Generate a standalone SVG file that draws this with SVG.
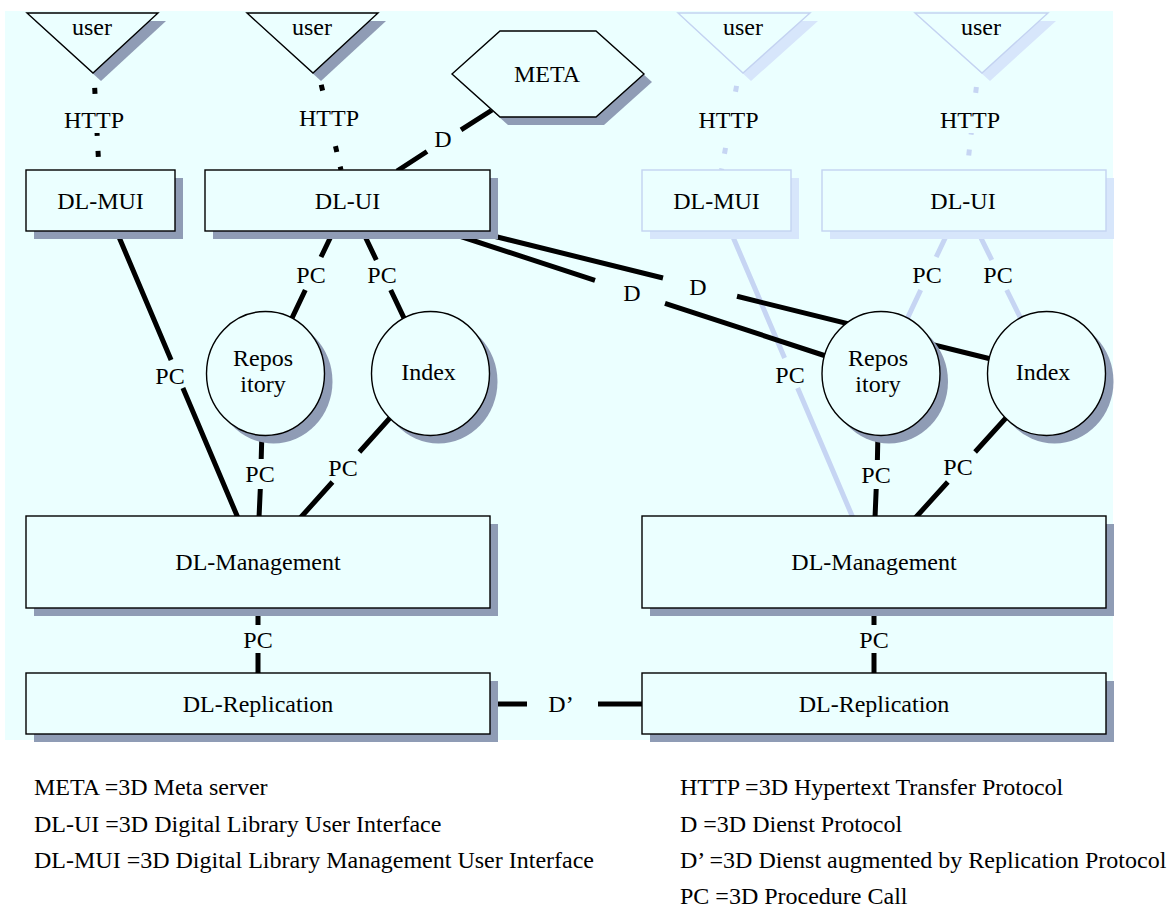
<svg xmlns="http://www.w3.org/2000/svg" width="1171" height="910" viewBox="0 0 1171 910">
<style>
  text { font-family: "Liberation Serif", "Times New Roman", serif; font-size: 24px; fill: #000; }
  .c { text-anchor: middle; }
  .shape { fill: #ebffff; stroke: #000; stroke-width: 1.4; }
  .shadow { fill: #8f9cb5; }
  .fshape { fill: #ebffff; stroke: #c4d3f1; stroke-width: 1.4; }
  .fshadow { fill: #d7e6fb; }
  .conn { fill: none; stroke: #000; stroke-width: 5; }
  .fconn { fill: none; stroke: #c6d5f3; stroke-width: 5; }
  .dot { stroke-dasharray: 6 15; }
  .lblbg { fill: #ebffff; }
</style>
<rect id="background" x="5" y="11" width="1108" height="729" fill="#ebffff"/>

<g id="connectors">
  <!-- faded connectors -->
  <path class="fconn dot" d="M738.5,75 L721.6,170" stroke-dashoffset="10"/>
  <rect class="lblbg" x="696" y="97" width="66" height="38"/>
  <text class="c" x="728.5" y="128">HTTP</text>
  <path class="fconn dot" d="M977.7,75 L967.1,170" stroke-dashoffset="9"/>
  <rect class="lblbg" x="938" y="97" width="64" height="36"/>
  <text class="c" x="970" y="128">HTTP</text>
  <path class="fconn" d="M730,230 L784.6,358 M797.6,388 L853,518"/>
  <text class="c" x="790" y="383">PC</text>
  <path class="fconn" d="M949,230 L936.2,257 M920.7,290 L906.3,320.6"/>
  <text class="c" x="927" y="283">PC</text>
  <path class="fconn" d="M977,230 L991.8,260 M1006.7,290 L1021.8,320.6"/>
  <text class="c" x="998" y="283">PC</text>

  <!-- solid connectors -->
  <path class="conn dot" d="M94,75 L99,170" stroke-dashoffset="8"/>
  <rect class="lblbg" x="60" y="98" width="68" height="35"/>
  <text class="c" x="94" y="128">HTTP</text>
  <path class="conn dot" d="M319,75 L341,170" stroke-dashoffset="11"/>
  <rect class="lblbg" x="296" y="97" width="66" height="38"/>
  <text class="c" x="329" y="126">HTTP</text>

  <path class="conn" d="M397,171 L427,151.5 M461,129.8 L496,107.5"/>
  <text class="c" x="443" y="147">D</text>

  <path class="conn" d="M116,230 L171.1,360 M182.9,388 L238,518"/>
  <text class="c" x="170" y="384">PC</text>
  <path class="conn" d="M334,230 L321,257 M305.3,290 L290.3,321.6"/>
  <text class="c" x="311" y="283">PC</text>
  <path class="conn" d="M362,230 L376.3,260 M390.7,290 L405.7,321.6"/>
  <text class="c" x="382" y="283">PC</text>
  <path class="conn" d="M262,430 L261.2,459 M260.3,489 L259,518"/>
  <text class="c" x="260" y="482">PC</text>
  <path class="conn" d="M391.7,416 L359.4,452 M332.5,482 L300.2,518"/>
  <text class="c" x="343" y="476">PC</text>
  <path class="conn" d="M258,606 L258,625 M258,653 L258,675"/>
  <text class="c" x="258" y="648">PC</text>

  <path class="conn" d="M441,230 L595,280.4 M665,303.3 L835,359"/>
  <text class="c" x="632" y="301">D</text>
  <path class="conn" d="M469,230 L663,278 M737,296.3 L995,360"/>
  <text class="c" x="698" y="295">D</text>

  <path class="conn" d="M878,430 L877.4,460 M876.2,489 L875,518"/>
  <text class="c" x="876" y="483">PC</text>
  <path class="conn" d="M1007.7,416 L975.1,452 M947.8,482 L915.2,518"/>
  <text class="c" x="958" y="475">PC</text>
  <path class="conn" d="M874,606 L874,625 M874,653 L874,675"/>
  <text class="c" x="874" y="648">PC</text>

  <path class="conn" d="M488,704 L527,704 M598,704 L644,704"/>
  <text class="c" x="561" y="712">D’</text>
</g>

<g id="user1">
  <polygon class="shadow" points="35,21 166,21 101,81"/>
  <polygon class="shape" points="27,13 158,13 93,73"/>
  <text class="c" x="92" y="35">user</text>
</g>
<g id="user2">
  <polygon class="shadow" points="255,21 386,21 321,81"/>
  <polygon class="shape" points="247,13 378,13 313,73"/>
  <text class="c" x="312" y="35">user</text>
</g>
<g id="user3">
  <polygon class="fshadow" points="686,21 818,21 751,81"/>
  <polygon class="fshape" points="678,13 810,13 743,73"/>
  <text class="c" x="743" y="35">user</text>
</g>
<g id="user4">
  <polygon class="fshadow" points="923,21 1056,21 990,81"/>
  <polygon class="fshape" points="915,13 1048,13 982,73"/>
  <text class="c" x="981" y="35">user</text>
</g>
<g id="meta">
  <polygon class="shadow" points="460,82 508,39 604,39 652,82 604,125 508,125"/>
  <polygon class="shape" points="452,74 500,31 596,31 644,74 596,117 500,117"/>
  <text class="c" x="547" y="82">META</text>
</g>

<g id="dl-mui-left">
  <rect class="shadow" x="34" y="178" width="149" height="61"/>
  <rect class="shape" x="26" y="170" width="149" height="61"/>
  <text class="c" x="100.5" y="209">DL-MUI</text>
</g>
<g id="dl-ui-left">
  <rect class="shadow" x="213" y="178" width="285" height="61"/>
  <rect class="shape" x="205" y="170" width="285" height="61"/>
  <text class="c" x="347.5" y="209">DL-UI</text>
</g>
<g id="dl-mui-right">
  <rect class="fshadow" x="650" y="178" width="149" height="61"/>
  <rect class="fshape" x="642" y="170" width="149" height="61"/>
  <text class="c" x="716.5" y="209">DL-MUI</text>
</g>
<g id="dl-ui-right">
  <rect class="fshadow" x="830" y="178" width="284" height="61"/>
  <rect class="fshape" x="822" y="170" width="284" height="61"/>
  <text class="c" x="963" y="209">DL-UI</text>
</g>

<g id="repository-left">
  <ellipse class="shadow" cx="273.5" cy="381.5" rx="59" ry="62"/>
  <ellipse class="shape" cx="265.5" cy="373.5" rx="59" ry="62"/>
  <text class="c" x="263" y="366">Repos</text>
  <text class="c" x="263" y="392">itory</text>
</g>
<g id="index-left">
  <ellipse class="shadow" cx="438.5" cy="381.5" rx="59" ry="62"/>
  <ellipse class="shape" cx="430.5" cy="373.5" rx="59" ry="62"/>
  <text class="c" x="428.5" y="380">Index</text>
</g>
<g id="repository-right">
  <ellipse class="shadow" cx="889" cy="381.5" rx="59" ry="62"/>
  <ellipse class="shape" cx="881" cy="373.5" rx="59" ry="62"/>
  <text class="c" x="878" y="366">Repos</text>
  <text class="c" x="878" y="392">itory</text>
</g>
<g id="index-right">
  <ellipse class="shadow" cx="1054.5" cy="381.5" rx="59" ry="62"/>
  <ellipse class="shape" cx="1046.5" cy="373.5" rx="59" ry="62"/>
  <text class="c" x="1043" y="380">Index</text>
</g>

<g id="dl-management-left">
  <rect class="shadow" x="34" y="524" width="464" height="92"/>
  <rect class="shape" x="26" y="516" width="464" height="92"/>
  <text class="c" x="258" y="570">DL-Management</text>
</g>
<g id="dl-management-right">
  <rect class="shadow" x="650" y="524" width="464" height="92"/>
  <rect class="shape" x="642" y="516" width="464" height="92"/>
  <text class="c" x="874" y="570">DL-Management</text>
</g>
<g id="dl-replication-left">
  <rect class="shadow" x="34" y="681" width="464" height="61"/>
  <rect class="shape" x="26" y="673" width="464" height="61"/>
  <text class="c" x="258" y="712">DL-Replication</text>
</g>
<g id="dl-replication-right">
  <rect class="shadow" x="650" y="681" width="464" height="61"/>
  <rect class="shape" x="642" y="673" width="464" height="61"/>
  <text class="c" x="874" y="712">DL-Replication</text>
</g>

<g id="legend">
  <text x="34" y="795">META =3D Meta server</text>
  <text x="34" y="832">DL-UI =3D Digital Library User Interface</text>
  <text x="34" y="868">DL-MUI =3D Digital Library Management User Interface</text>
  <text x="680" y="795">HTTP =3D Hypertext Transfer Protocol</text>
  <text x="680" y="832">D =3D Dienst Protocol</text>
  <text x="680" y="868">D’ =3D Dienst augmented by Replication Protocol</text>
  <text x="680" y="904">PC =3D Procedure Call</text>
</g>
</svg>
